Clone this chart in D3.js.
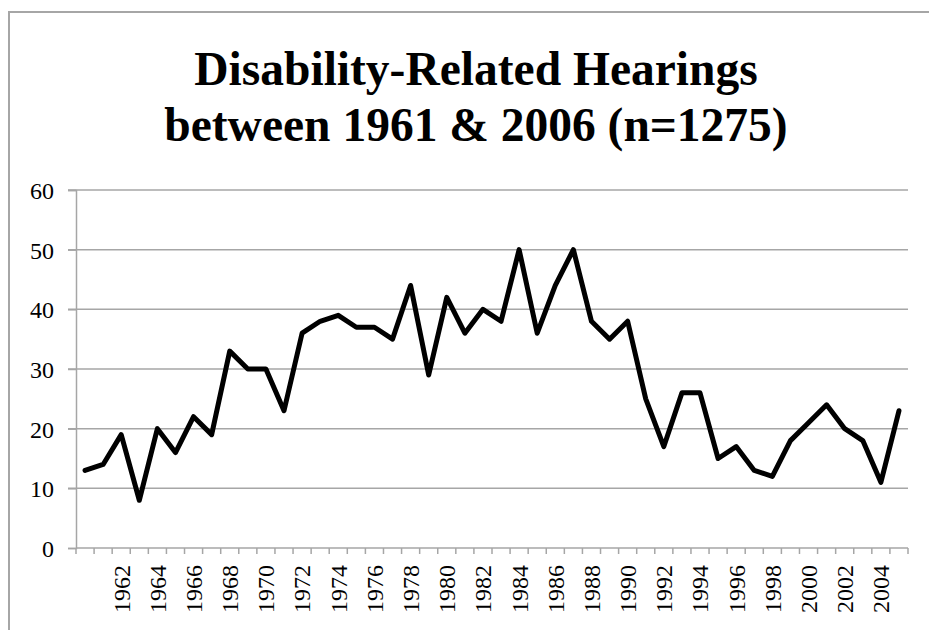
<!DOCTYPE html>
<html>
<head>
<meta charset="utf-8">
<script src="https://cdn.jsdelivr.net/npm/d3@7"></script>
<style>
  body { margin: 0; background: #fff; }
</style>
</head>
<body>
<div id="chart"></div>
<script>
const years = d3.range(1960, 2006);
const hearings = [
  13, 14, 19, 8, 20, 16, 22, 19, 33, 30,
  30, 23, 36, 38, 39, 37, 37, 35, 44, 29,
  42, 36, 40, 38, 50, 36, 44, 50, 38, 35,
  38, 25, 17, 26, 26, 15, 17, 13, 12, 18,
  21, 24, 20, 18, 11, 23
];
const tickLabels = d3.range(1962, 2005, 2);
const yTicks = [0, 10, 20, 30, 40, 50, 60];
const titleLines = ['Disability-Related Hearings', 'between 1961 & 2006 (n=1275)'];

const totalWidth = 929;
const totalHeight = 630;
const margin = { top: 190, bottom: 82, left: 76, right: 21 };
const width = totalWidth - margin.left - margin.right;
const height = totalHeight - margin.top - margin.bottom;
const gridColor = '#a6a6a6';
const serif = "'Liberation Serif', 'Times New Roman', serif";

const svg = d3.select('#chart')
  .append('svg')
  .attr('width', totalWidth)
  .attr('height', totalHeight);

// chart frame (cropped at right and bottom)
svg.append('path')
  .attr('d', `M9,${totalHeight} V12 H${totalWidth}`)
  .attr('fill', 'none')
  .attr('stroke', gridColor)
  .attr('stroke-width', 2);

svg.append('g')
  .selectAll('text')
  .data(titleLines)
  .join('text')
  .attr('x', 476)
  .attr('y', (d, i) => 85 + i * 56)
  .attr('text-anchor', 'middle')
  .style('font-family', serif)
  .style('font-size', '47.5px')
  .style('font-weight', 'bold')
  .text((d) => d);

const container = svg
  .append('g')
  .attr('transform', `translate(${margin.left},${margin.top})`);

const xScale = d3.scaleBand().domain(years).range([0, width]);
const yScale = d3.scaleLinear().domain([0, 60]).range([height, 0]);

// gridlines + y ticks
container.append('g')
  .selectAll('line')
  .data(yTicks.filter((d) => d > 0))
  .join('line')
  .attr('x1', -8)
  .attr('x2', width)
  .attr('y1', (d) => yScale(d))
  .attr('y2', (d) => yScale(d))
  .attr('stroke', gridColor)
  .attr('stroke-width', 1.5);

const yAxis = d3.axisLeft(yScale).tickValues(yTicks).tickSize(8).tickPadding(14);
container.append('g')
  .attr('id', 'yAxis')
  .call(yAxis)
  .call((g) => {
    g.selectAll('path,line').attr('stroke', gridColor).attr('stroke-width', 1.5);
    g.selectAll('text')
      .style('font-size', '24px')
      .style('font-family', serif)
      .attr('fill', '#000')
      .attr('dy', '0.35em');
  });

// x axis: ticks between categories, labels every other year
const xAxis = container.append('g')
  .attr('id', 'xAxis')
  .attr('transform', `translate(0,${height})`);

xAxis.append('line')
  .attr('x1', 0)
  .attr('x2', width)
  .attr('stroke', gridColor)
  .attr('stroke-width', 1.5);

xAxis.selectAll('line.tick')
  .data(years.concat([null]))
  .join('line')
  .attr('class', 'tick')
  .attr('x1', (d) => (d === null ? width : xScale(d)))
  .attr('x2', (d) => (d === null ? width : xScale(d)))
  .attr('y1', 0)
  .attr('y2', 6)
  .attr('stroke', gridColor)
  .attr('stroke-width', 1.5);

xAxis.selectAll('text')
  .data(tickLabels)
  .join('text')
  .attr('transform', (d) =>
    `translate(${xScale(d) + xScale.bandwidth() / 2},17) rotate(-90)`)
  .attr('text-anchor', 'end')
  .attr('dy', '0.35em')
  .style('font-family', serif)
  .style('font-size', '24px')
  .text((d) => d);

const line = d3.line()
  .x((d, i) => xScale(years[i]) + xScale.bandwidth() / 2)
  .y((d) => yScale(d));

container.append('path')
  .datum(hearings)
  .attr('d', line)
  .attr('fill', 'none')
  .attr('stroke', '#000')
  .attr('stroke-width', 5)
  .attr('stroke-linejoin', 'round')
  .attr('stroke-linecap', 'round');
</script>
</body>
</html>
